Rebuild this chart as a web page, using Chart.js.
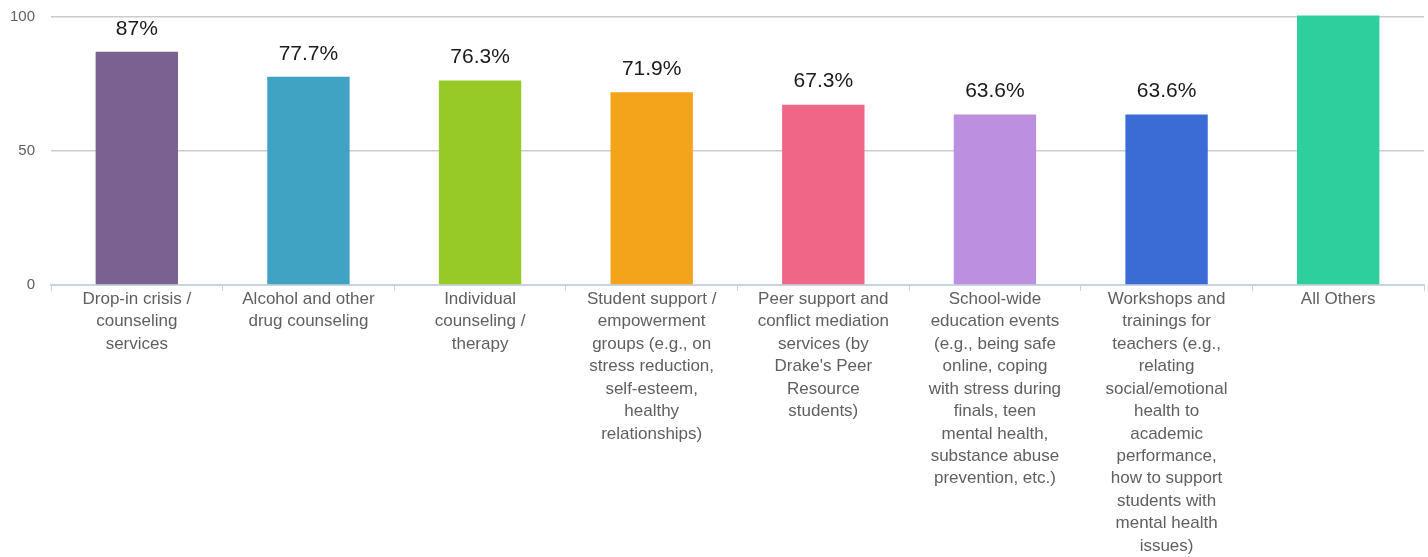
<!DOCTYPE html>
<html>
<head>
<meta charset="utf-8">
<script src="https://cdn.jsdelivr.net/npm/chart.js@4"></script>
<style>
  html, body { margin: 0; padding: 0; background: #fff; overflow: hidden; }
  #wrap { width: 1428px; height: 565px; margin-top: -8px; }
</style>
</head>
<body>
<div id="wrap"><canvas id="programChart"></canvas></div>
<script>
// Category labels, already broken into lines like the original
const categories = [
    ['Drop-in crisis /', 'counseling', 'services'],
    ['Alcohol and other', 'drug counseling'],
    ['Individual', 'counseling /', 'therapy'],
    ['Student support /', 'empowerment', 'groups (e.g., on', 'stress reduction,', 'self-esteem,', 'healthy', 'relationships)'],
    ['Peer support and', 'conflict mediation', 'services (by', "Drake's Peer", 'Resource', 'students)'],
    ['School-wide', 'education events', '(e.g., being safe', 'online, coping', 'with stress during', 'finals, teen', 'mental health,', 'substance abuse', 'prevention, etc.)'],
    ['Workshops and', 'trainings for', 'teachers (e.g.,', 'relating', 'social/emotional', 'health to', 'academic', 'performance,', 'how to support', 'students with', 'mental health', 'issues)'],
    ['All Others']
];
const values = [87, 77.7, 76.3, 71.9, 67.3, 63.6, 63.6, 100.6];
const valueLabels = ['87%', '77.7%', '76.3%', '71.9%', '67.3%', '63.6%', '63.6%', null];
const barColors = ['#7b6192', '#40a3c3', '#97c927', '#f4a41b', '#f06687', '#bd8fe0', '#3b6bd4', '#2ecf9d'];
const yTicks = [0, 50, 100];

// Simple value labels above bars
const barLabels = {
    id: 'barLabels',
    afterDatasetsDraw(chart) {
        const ctx = chart.ctx;
        const meta = chart.getDatasetMeta(0);
        ctx.save();
        ctx.font = '21px "Liberation Sans", Arial, sans-serif';
        ctx.fillStyle = '#1a1a1a';
        ctx.textAlign = 'center';
        ctx.textBaseline = 'middle';
        meta.data.forEach((bar, i) => {
            if (valueLabels[i] === null) return;
            ctx.fillText(valueLabels[i], bar.x, bar.y - 23);
        });
        ctx.restore();
    }
};

const ctx = document.getElementById('programChart').getContext('2d');
const programChart = new Chart(ctx, {
    type: 'bar',
    data: {
        labels: categories,
        datasets: [{
            data: values,
            backgroundColor: barColors,
            barPercentage: 0.48,
            categoryPercentage: 1,
            clip: false
        }]
    },
    plugins: [barLabels],
    options: {
        responsive: true,
        maintainAspectRatio: false,
        animation: false,
        layout: { padding: { top: 0, right: 4, left: 0, bottom: 0 } },
        plugins: {
            legend: { display: false },
            tooltip: { enabled: false }
        },
        scales: {
            x: {
                afterFit(axis) { axis.height = 272; },
                grid: {
                    drawOnChartArea: false,
                    color: '#c8d3e0',
                    tickLength: 6
                },
                border: { color: '#c8d3e0', width: 2 },
                ticks: {
                    color: '#5f5f5f',
                    font: { family: '"Liberation Sans", Arial, sans-serif', size: 17, lineHeight: 1.32 },
                    padding: -3,
                    maxRotation: 0,
                    autoSkip: false
                }
            },
            y: {
                min: 0,
                max: 100,
                afterFit(axis) { axis.width = 51; },
                afterBuildTicks(axis) {
                    axis.ticks = yTicks.map(v => ({ value: v }));
                },
                grid: { color: '#cccccc', lineWidth: 1.5, drawTicks: false },
                border: { display: false },
                ticks: {
                    color: '#5f5f5f',
                    padding: 16,
                    font: { family: '"Liberation Sans", Arial, sans-serif', size: 15 }
                }
            }
        }
    }
});
</script>
</body>
</html>
